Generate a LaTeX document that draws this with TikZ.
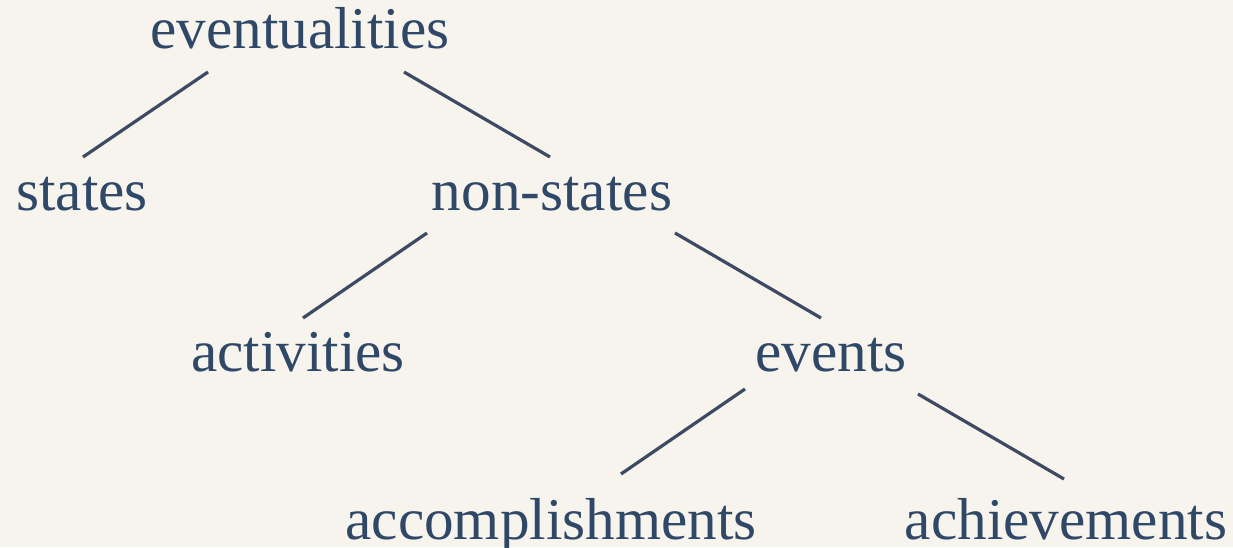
\documentclass[tikz,border=0pt]{standalone}
\usepackage{fontspec}
\setmainfont{Liberation Serif}
\usepackage{tikz}
\usetikzlibrary{calc}
\usepackage{xcolor}
\definecolor{paper}{RGB}{247,243,237}
\definecolor{ink}{RGB}{48,72,104}
\definecolor{branch}{RGB}{60,74,100}
\newcommand{\term}[1]{\fontsize{29.6}{34}\selectfont #1}

\begin{document}
\begin{tikzpicture}[x=0.5pt,y=-0.5pt,
    kind/.style={inner sep=0pt, anchor=base, text=ink},
    edge/.style={draw=branch, line width=1.6pt}]
	% page
	\fill[paper] (0,0) rectangle (1233,547);
	\useasboundingbox (0,0) rectangle (1233,547);

	\node[kind] (ev)  at (300,48)  {\term{eventualities}};
	\node[kind] (st)  at (82,210)  {\term{states}};
	\node[kind] (ns)  at (552,210) {\term{non-states}};
	\node[kind] (act) at (298,371) {\term{activities}};
	\node[kind] (evs) at (831,371) {\term{events}};
	\node[kind] (acc) at (551,539) {\term{accomplishments}};
	\node[kind] (ach) at (1066,539) {\term{achievements}};

	\draw[edge] ($(ev.base)+(-92,24)$)  -- ($(st.base)+(1,-53)$);
	\draw[edge] ($(ev.base)+(104,24)$)  -- ($(ns.base)+(-2,-53)$);
	\draw[edge] ($(ns.base)+(-125,23)$) -- ($(act.base)+(5,-53)$);
	\draw[edge] ($(ns.base)+(123,23)$)  -- ($(evs.base)+(-10,-53)$);
	\draw[edge] ($(evs.base)+(-86,18)$) -- ($(acc.base)+(70,-65)$);
	\draw[edge] ($(evs.base)+(87,23)$)  -- ($(ach.base)+(-2,-60)$);

\end{tikzpicture}
\end{document}
